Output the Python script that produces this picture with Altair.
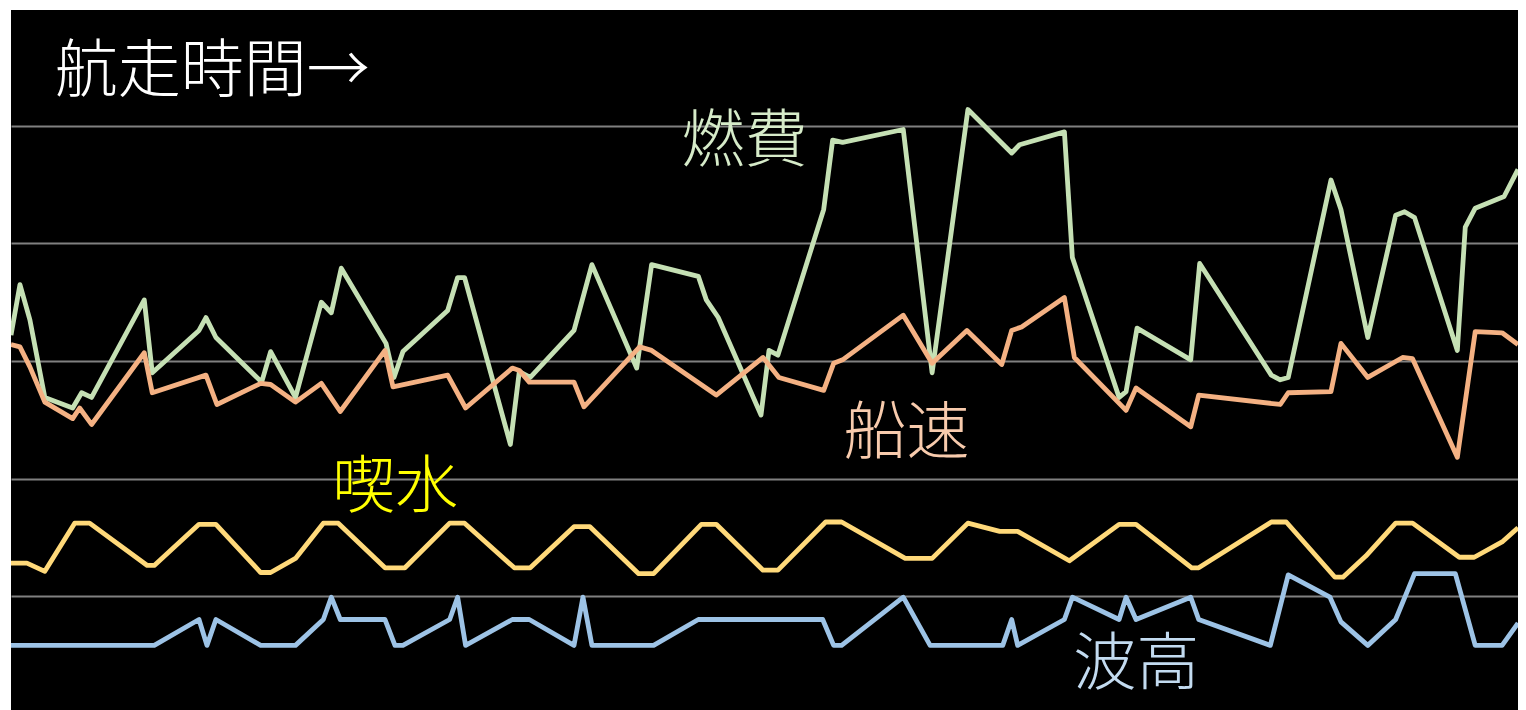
import altair as alt
import pandas as pd

# voyage time (minutes) and values (arbitrary units, gridline = 1 unit)
fuel_t = [0, 9, 19, 34, 62, 71, 81, 134, 142, 189, 196, 206, 252, 261, 286, 312, 322, 332, 377, 385,
          394, 439, 449, 456, 502, 511, 522, 566, 584, 629, 644, 691, 699, 711, 754, 762, 771, 817, 826,
          836, 897, 926, 962, 1006, 1014, 1059, 1067, 1114, 1121, 1132, 1186, 1195, 1267, 1276, 1284,
          1327, 1337, 1364, 1392, 1401, 1411, 1454, 1462, 1472, 1501, 1515]
fuel_v = [3.22, 3.65, 3.35, 2.69, 2.60, 2.73, 2.69, 3.52, 2.90, 3.26, 3.37, 3.20, 2.82, 3.08, 2.69, 3.50,
          3.41, 3.79, 3.15, 2.86, 3.08, 3.43, 3.71, 3.71, 2.29, 2.91, 2.86, 3.26, 3.82, 2.94, 3.82, 3.72,
          3.52, 3.37, 2.54, 3.09, 3.05, 4.29, 4.88, 4.86, 4.97, 2.90, 5.14, 4.77, 4.84, 4.95, 3.88, 2.69,
          2.74, 3.28, 3.01, 3.83, 2.88, 2.84, 2.86, 4.54, 4.29, 3.20, 4.24, 4.27, 4.22, 3.09, 4.14, 4.30,
          4.40, 4.63]

speed_t = [0, 9, 19, 34, 62, 69, 81, 134, 142, 196, 207, 251, 261, 286, 312, 331, 376, 384, 439, 457,
           504, 511, 521, 566, 576, 632, 644, 709, 756, 772, 817, 827, 836, 897, 926, 961, 996, 1006,
           1016, 1059, 1069, 1121, 1131, 1186, 1194, 1276, 1284, 1327, 1337, 1364, 1399, 1409, 1454,
           1472, 1499, 1515]
speed_v = [3.14, 3.12, 2.95, 2.65, 2.51, 2.60, 2.46, 3.07, 2.73, 2.88, 2.63, 2.81, 2.80, 2.65, 2.81,
           2.57, 3.09, 2.78, 2.88, 2.60, 2.94, 2.92, 2.82, 2.82, 2.61, 3.12, 3.09, 2.71, 3.03, 2.86,
           2.75, 2.98, 3.01, 3.39, 2.98, 3.26, 2.97, 3.26, 3.29, 3.54, 3.03, 2.58, 2.77, 2.44, 2.71,
           2.63, 2.73, 2.74, 3.15, 2.86, 3.03, 3.02, 2.18, 3.25, 3.24, 3.14]

draft_t = [0, 16, 34, 64, 79, 137, 144, 189, 206, 251, 261, 286, 314, 329, 376, 396, 441, 456, 506, 522,
           566, 582, 631, 646, 694, 709, 756, 771, 819, 835, 899, 926, 962, 994, 1012, 1064, 1114, 1131,
           1187, 1194, 1267, 1282, 1331, 1339, 1362, 1392, 1409, 1456, 1471, 1499, 1515]
draft_v = [1.28, 1.28, 1.21, 1.62, 1.62, 1.26, 1.26, 1.61, 1.61, 1.20, 1.20, 1.32, 1.62, 1.62, 1.24,
           1.24, 1.62, 1.62, 1.24, 1.24, 1.59, 1.59, 1.19, 1.19, 1.61, 1.61, 1.22, 1.22, 1.63, 1.63,
           1.32, 1.32, 1.62, 1.55, 1.55, 1.30, 1.61, 1.61, 1.24, 1.24, 1.63, 1.63, 1.16, 1.16, 1.34,
           1.62, 1.62, 1.33, 1.33, 1.46, 1.58]

wave_t = [0, 144, 189, 197, 206, 251, 286, 314, 322, 331, 376, 386, 394, 441, 449, 457, 504, 521, 566,
          575, 584, 646, 691, 816, 827, 835, 897, 924, 997, 1006, 1012, 1059, 1067, 1114, 1121, 1131,
          1186, 1194, 1266, 1284, 1326, 1337, 1364, 1392, 1411, 1452, 1472, 1499, 1515]
wave_v = [0.58, 0.58, 0.80, 0.58, 0.80, 0.58, 0.58, 0.80, 0.99, 0.80, 0.80, 0.58, 0.58, 0.80, 0.99,
          0.58, 0.80, 0.80, 0.58, 0.99, 0.58, 0.58, 0.80, 0.80, 0.58, 0.58, 0.99, 0.58, 0.58, 0.80,
          0.58, 0.80, 0.99, 0.80, 0.99, 0.80, 0.99, 0.80, 0.58, 1.18, 0.99, 0.78, 0.58, 0.80, 1.19,
          1.19, 0.58, 0.58, 0.77]

series_names = ["燃費", "船速", "喫水", "波高"]
line_colors = ["#c5e0b4", "#f4b183", "#ffd97a", "#9dc3e6"]

label_texts = ["航走時間→", "燃費", "船速", "喫水", "波高"]
label_t = [44, 674, 837, 323, 1068]
label_v = [5.46, 4.86, 2.38, 1.92, 0.41]
label_colors = ["#ffffff", "#d6ebc9", "#f8cbad", "#ffff00", "#c3dbf0"]

grid_values = [1, 2, 3, 4, 5]

rows = []
for name, ts, vs in zip(series_names, [fuel_t, speed_t, draft_t, wave_t],
                        [fuel_v, speed_v, draft_v, wave_v]):
    for i, (t, v) in enumerate(zip(ts, vs)):
        rows.append({"series": name, "t": t, "v": v, "order": i})
df = pd.DataFrame(rows)

labels = pd.DataFrame({"text": label_texts, "t": label_t, "v": label_v, "color": label_colors})

xscale = alt.Scale(domain=[0, 1515], nice=False, zero=False)
yscale = alt.Scale(domain=[0.03, 5.987], nice=False, zero=False)

lines = alt.Chart(df).mark_line(strokeWidth=4.8, strokeJoin="round", clip=True).encode(
    x=alt.X("t:Q", scale=xscale, axis=None),
    y=alt.Y("v:Q", scale=yscale,
            axis=alt.Axis(values=grid_values, labels=False, ticks=False, domain=False,
                          grid=True, gridColor="#808080", gridWidth=2, title=None)),
    color=alt.Color("series:N", scale=alt.Scale(domain=series_names, range=line_colors), legend=None),
    order="order:Q",
    detail="series:N",
)

text = alt.Chart(labels).mark_text(
    align="left", baseline="middle", fontSize=63, font="Noto Sans CJK JP", fontWeight=300
).encode(
    x=alt.X("t:Q", scale=xscale),
    y=alt.Y("v:Q", scale=yscale),
    text="text:N",
    color=alt.Color("color:N", scale=None),
)

chart = alt.layer(lines, text).properties(
    width=1507, height=700,
    padding={"left": 3, "top": 2, "right": 0, "bottom": 0},
    autosize=alt.AutoSizeParams(type="none"),
    background="#ffffff",
).configure_view(fill="#000000", stroke=None)

chart.save("out.html", embed_options={"renderer": "svg", "actions": False})
